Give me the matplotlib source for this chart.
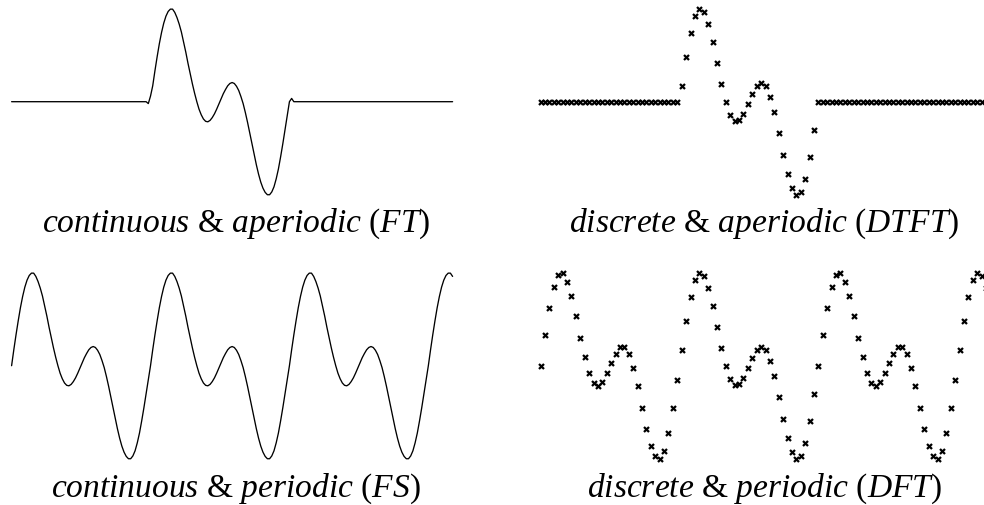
import matplotlib
matplotlib.use("Agg")

import matplotlib.pyplot as plt
import numpy as np


# one period of the signal, read at half-sample steps (63 half-samples = 31.5 samples)
period_fine = [
    0.00, 0.17, 0.33, 0.48, 0.62, 0.74, 0.84, 0.915, 0.965, 0.99,
    0.99, 0.955, 0.90, 0.83, 0.745, 0.64, 0.53, 0.41, 0.30, 0.19,
    0.09, 0.00, -0.08, -0.14, -0.185, -0.21, -0.215, -0.20, -0.17, -0.13,
    -0.08, -0.025, 0.03, 0.085, 0.13, 0.17, 0.195, 0.205, 0.195, 0.165,
    0.12, 0.055, -0.02, -0.115, -0.22, -0.335, -0.45, -0.565, -0.675, -0.775,
    -0.86, -0.925, -0.97, -0.995, -0.995, -0.965, -0.91, -0.825, -0.72, -0.59,
    -0.45, -0.30, -0.15,
]

# smoothed edges of the windowed pulse (overshoot where the window cuts it)
pulse_lead = [0.0, -0.02, 0.06]      # n = 30.5, 31, 31.5
pulse_tail = [0.0, 0.035, 0.0]       # n = 63, 63.5, 64
pulse_start = 32                     # first non-zero sample of the pulse
pulse_len = 31

n_last_cont = 100                    # continuous panels span n = 0 .. 100
n_last_disc = 101                    # discrete panels run off the right edge

labels = [
    r"$continuous$ & $aperiodic$ $(FT)$",
    r"$discrete$ & $aperiodic$ $(DTFT)$",
    r"$continuous$ & $periodic$ $(FS)$",
    r"$discrete$ & $periodic$ $(DFT)$",
]

plt.rcParams["mathtext.fontset"] = "custom"
plt.rcParams["mathtext.it"] = "Liberation Serif:italic"
plt.rcParams["mathtext.rm"] = "Liberation Serif"
plt.rcParams["font.family"] = "Liberation Serif"

W, H = 984, 506
PX_PER_N = 4.41
PX_PER_UNIT = 93.5
XLIM = (-2.0, 104.0)
YLIM = (-1.15, 1.15)
LABEL_WIDTH_PX = 390      # width of the first caption; the rest share its size

period = np.asarray(period_fine)
n_per = len(period)

# continuous periodic curve on half-sample grid
t_cont = np.arange(0, 2 * n_last_cont + 1) / 2.0
y_periodic = period[np.arange(len(t_cont)) % n_per]

# discrete periodic samples: every other half-sample
n_disc = np.arange(0, n_last_disc + 1)
y_dft = period[(2 * n_disc) % n_per]

# discrete pulse: the same samples, kept only inside the window
y_dtft = np.zeros(len(n_disc))
win = (n_disc >= pulse_start) & (n_disc < pulse_start + pulse_len)
y_dtft[win] = y_dft[win]

# continuous pulse: window of the periodic curve plus smoothed edges
y_pulse = np.zeros(len(t_cont))
body_t0 = pulse_start
body_t1 = pulse_start + pulse_len - 0.5
body = (t_cont >= body_t0) & (t_cont <= body_t1)
y_pulse[body] = y_periodic[body]
lead_idx = int(2 * (pulse_start - 1.5))
y_pulse[lead_idx:lead_idx + len(pulse_lead)] = pulse_lead
tail_idx = int(2 * (pulse_start + pulse_len))
y_pulse[tail_idx:tail_idx + len(pulse_tail)] = pulse_tail


def add_panel(fig, x0_px, y0_px):
    """Axes where n = 0 sits at pixel x0_px and amplitude 0 at pixel y0_px."""
    left = x0_px + XLIM[0] * PX_PER_N
    width = (XLIM[1] - XLIM[0]) * PX_PER_N
    top = y0_px - YLIM[1] * PX_PER_UNIT
    height = (YLIM[1] - YLIM[0]) * PX_PER_UNIT
    ax = fig.add_axes([left / W, 1 - (top + height) / H, width / W, height / H])
    ax.set_xlim(*XLIM)
    ax.set_ylim(*YLIM)
    ax.axis("off")
    return ax


fig = plt.figure(figsize=(W / 100, H / 100), dpi=100)

line_kw = dict(color="black", lw=0.95, solid_capstyle="round")
mark_kw = dict(ls="none", marker="x", color="black", ms=3.6, mew=1.6)

ax = add_panel(fig, 11.6, 102.7)
ax.plot(t_cont, y_pulse, **line_kw)

ax = add_panel(fig, 540.6, 102.7)
ax.plot(n_disc, y_dtft, **mark_kw)

ax = add_panel(fig, 11.6, 366.7)
ax.plot(t_cont, y_periodic, **line_kw)

ax = add_panel(fig, 540.6, 366.7)
ax.plot(n_disc, y_dft, **mark_kw)

# captions centred under each column
label_pos = [(236, 232), (764, 232), (236, 497), (764, 497)]
texts = []
for s, (x, y) in zip(labels, label_pos):
    texts.append(fig.text(x / W, 1 - y / H, s, ha="center", va="baseline",
                          fontsize=23))

# scale the caption size so the first caption has the wanted width
renderer = fig.canvas.get_renderer()
w0 = texts[0].get_window_extent(renderer).width
size = 23 * LABEL_WIDTH_PX / w0
for t in texts:
    t.set_fontsize(size)

fig.savefig("out.png", dpi=100)
plt.close(fig)
